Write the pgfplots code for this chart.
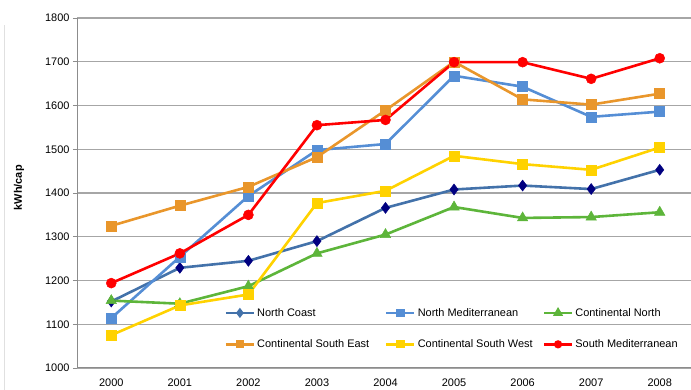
\documentclass[border=0pt]{standalone}
\usepackage{pgfplots}
\pgfplotsset{compat=1.18}
\usepackage{fontspec}
\setmainfont{Liberation Sans}

\definecolor{ncline}{HTML}{4372AA}
\definecolor{ncmark}{HTML}{000080}
\definecolor{nmed}{HTML}{558ED5}
\definecolor{cnorth}{HTML}{5DB53A}
\definecolor{cse}{HTML}{E9962B}
\definecolor{csw}{HTML}{FFD200}
\definecolor{smed}{HTML}{FF0000}
\definecolor{gridgray}{HTML}{A6A6A6}
\definecolor{axisgray}{HTML}{8C8C8C}

\begin{document}
\begin{tikzpicture}
\useasboundingbox (0,0) rectangle (691bp,390bp);
\draw[black!12, line width=0.8bp] (4bp,0bp) -- (4bp,365bp);
\begin{axis}[
  at={(77bp,22bp)}, anchor=south west,
  scale only axis,
  width=617bp, height=350bp,
  xmin=-0.5, xmax=8.5,
  ymin=1000, ymax=1800,
  ytick={1000,1100,...,1800},
  xtick={0,...,8},
  xticklabels={2000,2001,2002,2003,2004,2005,2006,2007,2008},
  minor xtick={-0.5,0.5,...,8.5},
  axis x line*=bottom, axis y line*=left,
  axis line style={axisgray, line width=1bp, -},
  tick align=outside,
  major tick length=4bp,
  minor tick length=4bp,
  xtick style={draw=none},
  minor tick style={axisgray, line width=0.8bp},
  ytick style={axisgray, line width=0.8bp},
  ymajorgrids,
  grid style={gridgray, line width=1.2bp},
  tick label style={font=\fontsize{11}{13}\selectfont, text=black},
  xticklabel style={yshift=-3bp},
  /pgf/number format/assume math mode=true,
  /pgf/number format/set thousands separator={},
  ylabel={\textbf{kWh/cap}},
  ylabel style={font=\fontsize{11}{13}\selectfont, at={(axis description cs:-0.094,0.515)}, anchor=center},
  legend columns=3,
  legend cell align=left,
  legend style={draw=none, fill=none, inner sep=0pt,
    at={(axis cs:1.65,1090)}, anchor=west,
    font=\fontsize{11}{13}\selectfont,
    /tikz/every even column/.append style={column sep=2bp},
    /tikz/every odd column/.append style={column sep=0bp},
    row sep=18bp},
  legend image code/.code={%
    \draw[#1, mark indices={2}, mark options={scale=0.55}]
      plot coordinates {(0bp,0bp) (14bp,0bp) (28bp,0bp)};},
  every axis plot/.append style={line width=2.6bp},
  clip=false,
]
% North Coast
\addplot[color=ncline, mark=diamond*, mark size=5.5bp, mark options={draw=ncmark, fill=ncmark, line width=0.5bp}]
  coordinates {(0,1152) (1,1229) (2,1245) (3,1290) (4,1366) (5,1408) (6,1417) (7,1409) (8,1453)};
\addlegendentry{\makebox[124bp][l]{North Coast}}
% North Mediterranean
\addplot[color=nmed, mark=square*, mark size=5bp, mark options={draw=nmed, fill=nmed, line width=0.5bp}]
  coordinates {(0,1114) (1,1254) (2,1393) (3,1498) (4,1512) (5,1668) (6,1643) (7,1574) (8,1586)};
\addlegendentry{\makebox[121bp][l]{North Mediterranean}}
% Continental North
\addplot[color=cnorth, mark=triangle*, mark size=6bp, mark options={draw=cnorth, fill=cnorth, line width=0.5bp}]
  coordinates {(0,1154) (1,1147) (2,1187) (3,1262) (4,1305) (5,1368) (6,1343) (7,1345) (8,1356)};
\addlegendentry{Continental North}
% Continental South East
\addplot[color=cse, mark=square*, mark size=5bp, mark options={draw=cse, fill=cse, line width=0.5bp}]
  coordinates {(0,1325) (1,1371) (2,1414) (3,1482) (4,1589) (5,1700) (6,1614) (7,1602) (8,1627)};
\addlegendentry{\makebox[124bp][l]{Continental South East}}
% Continental South West
\addplot[color=csw, mark=square*, mark size=5bp, mark options={draw=csw, fill=csw, line width=0.5bp}]
  coordinates {(0,1075) (1,1143) (2,1168) (3,1377) (4,1405) (5,1485) (6,1466) (7,1453) (8,1504)};
\addlegendentry{\makebox[121bp][l]{Continental South West}}
% South Mediterranean
\addplot[color=smed, mark=*, mark size=5bp, mark options={draw=smed, fill=smed, line width=0.5bp}]
  coordinates {(0,1194) (1,1262) (2,1350) (3,1555) (4,1567) (5,1699) (6,1699) (7,1661) (8,1708)};
\addlegendentry{South Mediterranean}
\end{axis}
\end{tikzpicture}
\end{document}
